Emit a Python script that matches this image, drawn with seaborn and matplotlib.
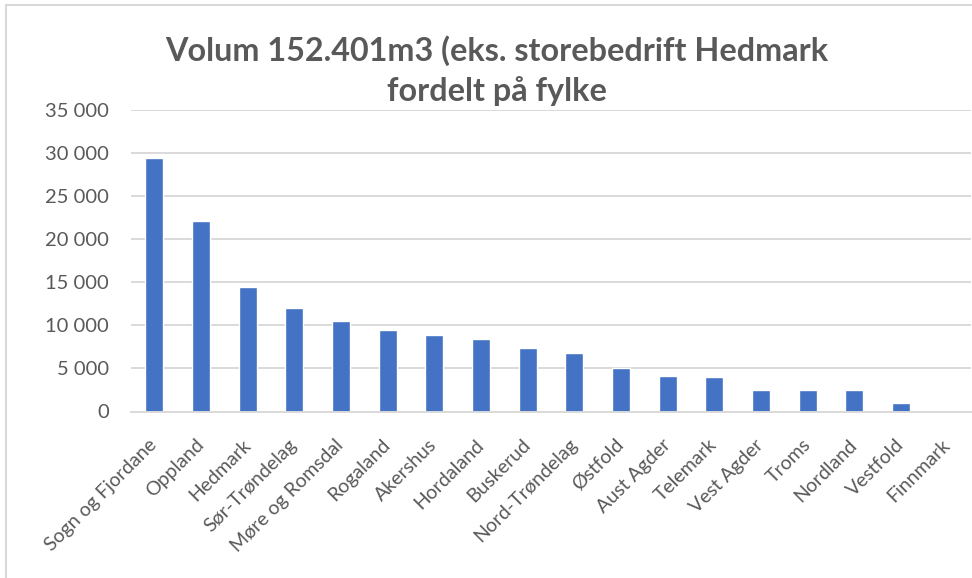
import pandas as pd
import numpy as np
import seaborn as sns
import matplotlib.pyplot as plt
from matplotlib.lines import Line2D

sns.set_style("white")
plt.rcParams['font.family'] = ['Lato', 'DejaVu Sans']

fylker = ['Sogn og Fjordane', 'Oppland', 'Hedmark', 'Sør-Trøndelag', 'Møre og Romsdal',
          'Rogaland', 'Akershus', 'Hordaland', 'Buskerud', 'Nord-Trøndelag', 'Østfold',
          'Aust Agder', 'Telemark', 'Vest Agder', 'Troms', 'Nordland', 'Vestfold', 'Finnmark']
volum = [29400, 22100, 14400, 12000, 10500, 9450, 8900, 8400, 7400, 6800, 5000,
         4100, 4000, 2450, 2450, 2450, 1000, 0]
ytick_vals = [0, 5000, 10000, 15000, 20000, 25000, 30000, 35000]
ytick_labels = ['0', '5 000', '10 000', '15 000', '20 000', '25 000', '30 000', '35 000']

df = pd.DataFrame({'fylke': fylker, 'volum': volum})

grey_txt = '#595959'
grey_line = '#D9D9D9'

fig = plt.figure(figsize=(9.72, 5.78), dpi=100)
ax = fig.add_axes([131/972, 1 - 411.5/578, 840/972, 301.5/578])

sns.barplot(data=df, x='fylke', y='volum', color='#4472C4', saturation=1, width=0.38, ax=ax)

ax.set_ylim(0, 35000)
ax.set_xlim(-0.5, len(fylker) - 0.5)
ax.set_yticks(ytick_vals)
ax.set_yticklabels(ytick_labels)
ax.set_xlabel('')
ax.set_ylabel('')

# excel-style gridlines
ax.yaxis.grid(True, color=grey_line, lw=1.4)
ax.set_axisbelow(True)
for s in ['top', 'right', 'left']:
    ax.spines[s].set_visible(False)
ax.spines['bottom'].set_color(grey_line)
ax.spines['bottom'].set_linewidth(1.4)

ax.tick_params(axis='both', length=0, colors=grey_txt)
ax.tick_params(axis='y', pad=16, labelsize=14.5)
ax.tick_params(axis='x', pad=22, labelsize=14)
plt.setp(ax.get_xticklabels(), rotation=45, ha='right', va='center', rotation_mode='anchor')

fig.text(497/972, 1 - 70.5/578, 'Volum 152.401m3 (eks. storebedrift Hedmark\nfordelt på fylke',
         ha='center', va='center', fontsize=23.3, fontweight='bold', color=grey_txt, linespacing=1.4)

# chart area border (left and top visible in the screenshot)
fig.add_artist(Line2D([6/972, 6/972], [0, 1 - 5/578], color=grey_line, lw=1.5))
fig.add_artist(Line2D([6/972, 1], [1 - 5/578, 1 - 5/578], color=grey_line, lw=1.5))

fig.savefig('out.png', dpi=100)
